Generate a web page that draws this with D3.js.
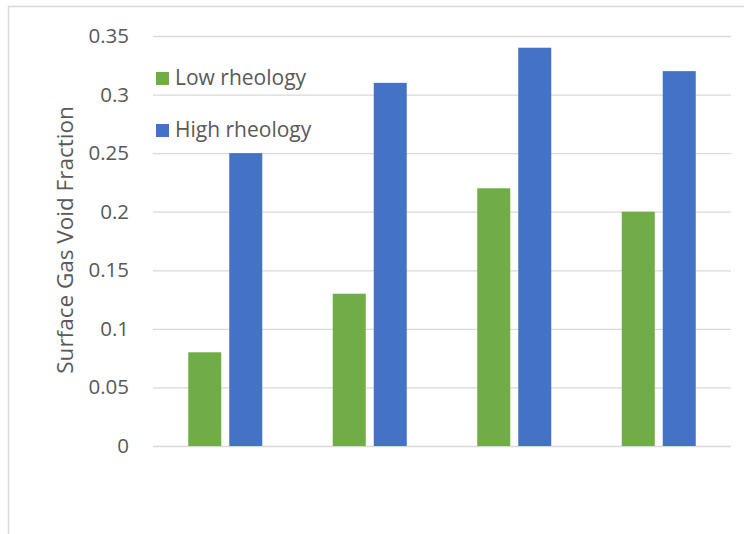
<!DOCTYPE html>
<html><head><meta charset="utf-8">
<script src="https://cdn.jsdelivr.net/npm/d3@7"></script>
<style>html,body{margin:0;padding:0;background:#fff;}svg{display:block;}</style>
</head><body>
<script>
const categories = ["1", "2", "3", "4"];
const seriesNames = ["Low rheology", "High rheology"];
const lowValues = [0.08, 0.13, 0.22, 0.20];
const highValues = [0.25, 0.31, 0.34, 0.32];
const yTicks = [0, 0.05, 0.1, 0.15, 0.2, 0.25, 0.3, 0.35];
const yTickLabels = ["0", "0.05", "0.1", "0.15", "0.2", "0.25", "0.3", "0.35"];
const colors = ["#70ad47", "#4472c4"];

const W = 744, H = 534;
const svg = d3.select("body").append("svg").attr("width", W).attr("height", H);
const font = "'Open Sans', 'Liberation Sans', sans-serif";

// chart border (left + top visible)
svg.append("path").attr("d", `M8.5,${H} L8.5,6.5 L${W},6.5`)
  .attr("fill", "none").attr("stroke", "#d9d9d9").attr("stroke-width", 1.5);

const plot = {left: 153, right: 731, top: 36, bottom: 446};
const x = d3.scaleBand().domain(categories).range([plot.left, plot.right]).paddingInner(0).paddingOuter(0);
const y = d3.scaleLinear().domain([0, 0.35]).range([plot.bottom, plot.top]);

// gridlines
const yAxis = d3.axisLeft(y).tickValues(yTicks).tickSize(-(plot.right - plot.left))
  .tickFormat((d, i) => yTickLabels[i]).tickPadding(24);
const gy = svg.append("g").attr("transform", `translate(${plot.left},0)`).call(yAxis);
gy.select(".domain").remove();
gy.selectAll(".tick line").attr("stroke", "#d9d9d9").attr("stroke-width", 1.3);
gy.selectAll(".tick text").attr("fill", "#595959").style("font-family", font).style("font-size", "20.5px");

const barW = 33, gap = 8;
const data = categories.map((c, i) => ({c, vals: [lowValues[i], highValues[i]]}));
const groupW = barW * 2 + gap;
const g = svg.append("g");
data.forEach(d => {
  d.vals.forEach((v, j) => {
    const x0 = x(d.c) + (x.bandwidth() - groupW) / 2 + j * (barW + gap);
    g.append("rect").attr("x", x0).attr("width", barW)
      .attr("y", y(v)).attr("height", y(0) - y(v)).attr("fill", colors[j]);
  });
});

// y axis title
svg.append("text").attr("transform", `translate(73,${(plot.top + plot.bottom) / 2 - 1}) rotate(-90)`)
  .attr("text-anchor", "middle").attr("fill", "#595959")
  .style("font-family", font).style("font-size", "22.5px").text("Surface Gas Void Fraction");

// legend
const leg = svg.append("g");
seriesNames.forEach((n, i) => {
  const ly = 72 + i * 52;
  leg.append("rect").attr("x", 156).attr("y", ly).attr("width", 13).attr("height", 13).attr("fill", colors[i]);
  leg.append("text").attr("x", 175).attr("y", ly + 12.5).attr("fill", "#595959")
    .style("font-family", font).style("font-size", "21px").text(n);
});
</script>
</body></html>
